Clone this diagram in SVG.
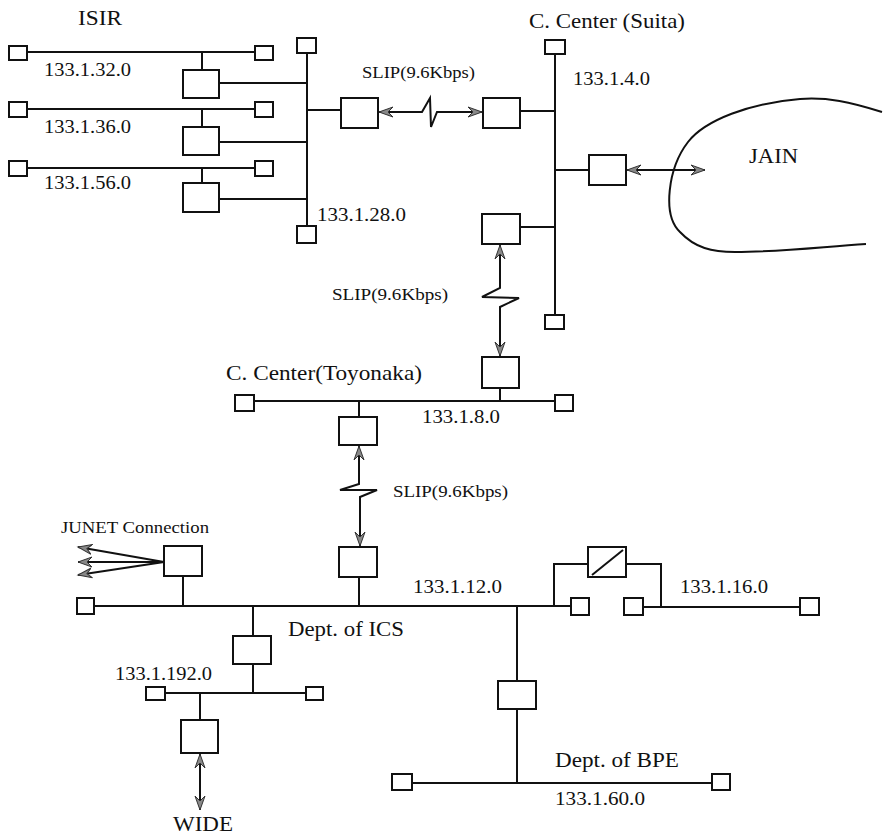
<svg xmlns="http://www.w3.org/2000/svg" width="883" height="836" viewBox="0 0 883 836">
<style>
  .ln{fill:none;stroke:#111;stroke-width:2}
  .bx{fill:#fff;stroke:#111;stroke-width:2}
  .hs{fill:#fff;stroke:#111;stroke-width:2}
  .ar{fill:none;stroke:#111;stroke-width:2;marker-start:url(#ah);marker-end:url(#ah)}
  .a1{fill:none;stroke:#111;stroke-width:2;marker-end:url(#ah)}
  text{font-family:"Liberation Serif","Times New Roman",serif;fill:#111}
  .lb{font-size:19px}
  .tt{font-size:22px}
  .sl{font-size:17px}
  .jn{font-size:16px}
</style>
<defs>
  <marker id="ah" markerUnits="userSpaceOnUse" markerWidth="16" markerHeight="12" refX="14" refY="6" orient="auto-start-reverse" viewBox="0 0 16 12">
    <path d="M0,1 L14,6 L0,11 L5,6 z" fill="#888" stroke="#333" stroke-width="1"/>
  </marker>
</defs>

<g id="connectors">
  <line class="ln" x1="27" y1="52" x2="255" y2="52"/>
  <line class="ln" x1="27" y1="109" x2="255" y2="109"/>
  <line class="ln" x1="27" y1="168" x2="255" y2="168"/>
  <line class="ln" x1="202" y1="52" x2="202" y2="70"/>
  <line class="ln" x1="202" y1="109" x2="202" y2="127"/>
  <line class="ln" x1="202" y1="168" x2="202" y2="183"/>
  <line class="ln" x1="219" y1="83" x2="307" y2="83"/>
  <line class="ln" x1="219" y1="142" x2="307" y2="142"/>
  <line class="ln" x1="219" y1="199" x2="307" y2="199"/>
  <line class="ln" x1="307" y1="53" x2="307" y2="226"/>
  <line class="ln" x1="307" y1="110" x2="341" y2="110"/>
  <path class="ar" d="M379,112 L422,112 L430,98 L431,127 L437,112 L482,112"/>
  <line class="ln" x1="520" y1="111" x2="555" y2="111"/>
  <line class="ln" x1="555" y1="54" x2="555" y2="315"/>
  <line class="ln" x1="555" y1="170" x2="589" y2="170"/>
  <line class="ar" x1="627" y1="170" x2="705" y2="170"/>
  <line class="ln" x1="520" y1="227" x2="555" y2="227"/>
  <path class="ar" d="M500,245 L500,288 L482,297 L519,298 L500,307 L500,356"/>
  <line class="ln" x1="500" y1="388" x2="500" y2="401"/>
  <line class="ln" x1="254" y1="401" x2="555" y2="401"/>
  <line class="ln" x1="359" y1="401" x2="359" y2="417"/>
  <path class="ar" d="M359,446 L359,484 L340,490 L377,490 L360,497 L360,546"/>
  <line class="ln" x1="359" y1="577" x2="359" y2="606"/>
  <line class="ln" x1="94" y1="606" x2="571" y2="606"/>
  <line class="ln" x1="183" y1="576" x2="183" y2="606"/>
  <line class="a1" x1="164" y1="562" x2="78" y2="547"/>
  <line class="a1" x1="164" y1="562" x2="78" y2="562"/>
  <line class="a1" x1="164" y1="562" x2="78" y2="575"/>
  <path class="ln" d="M554,606 L554,564 L588,564"/>
  <path class="ln" d="M626,564 L661,564 L661,607"/>
  <line class="ln" x1="643" y1="607" x2="800" y2="607"/>
  <line class="ln" x1="517" y1="606" x2="517" y2="681"/>
  <line class="ln" x1="517" y1="709" x2="517" y2="783"/>
  <line class="ln" x1="412" y1="783" x2="712" y2="783"/>
  <line class="ln" x1="253" y1="606" x2="253" y2="636"/>
  <line class="ln" x1="253" y1="664" x2="253" y2="693"/>
  <line class="ln" x1="165" y1="693" x2="306" y2="693"/>
  <line class="ln" x1="200" y1="693" x2="200" y2="720"/>
  <line class="ar" x1="200" y1="754" x2="200" y2="810"/>
</g>

<g id="jain">
  <path class="ln" d="M882,112 C850,102 828,97 800,99 C750,103 705,120 688,142 C668,168 662,215 680,232 C695,248 712,252 735,252 C780,252 820,247 866,244"/>
  <text class="tt" x="749" y="163" textLength="49" lengthAdjust="spacingAndGlyphs">JAIN</text>
</g>

<g id="isir">
  <text class="tt" x="78" y="25" textLength="44" lengthAdjust="spacingAndGlyphs">ISIR</text>
  <rect class="hs" x="9" y="46" width="18" height="14"/>
  <rect class="hs" x="255" y="46" width="18" height="14"/>
  <rect class="hs" x="9" y="102" width="18" height="15"/>
  <rect class="hs" x="255" y="102" width="18" height="15"/>
  <rect class="hs" x="9" y="161" width="18" height="15"/>
  <rect class="hs" x="255" y="161" width="18" height="15"/>
  <rect class="bx" x="183" y="70" width="36" height="28"/>
  <rect class="bx" x="183" y="127" width="36" height="28"/>
  <rect class="bx" x="183" y="183" width="36" height="29"/>
  <rect class="hs" x="297" y="38" width="19" height="15"/>
  <rect class="hs" x="297" y="226" width="19" height="17"/>
  <rect class="bx" x="341" y="98" width="37" height="30"/>
  <text class="lb" x="44" y="76" textLength="87" lengthAdjust="spacingAndGlyphs">133.1.32.0</text>
  <text class="lb" x="44" y="133" textLength="87" lengthAdjust="spacingAndGlyphs">133.1.36.0</text>
  <text class="lb" x="44" y="189" textLength="87" lengthAdjust="spacingAndGlyphs">133.1.56.0</text>
  <text class="lb" x="317" y="221" textLength="89" lengthAdjust="spacingAndGlyphs">133.1.28.0</text>
</g>

<g id="slip-labels">
  <text class="sl" x="362" y="78" textLength="113" lengthAdjust="spacingAndGlyphs">SLIP(9.6Kbps)</text>
  <text class="sl" x="332" y="300" textLength="116" lengthAdjust="spacingAndGlyphs">SLIP(9.6Kbps)</text>
  <text class="sl" x="393" y="497" textLength="115" lengthAdjust="spacingAndGlyphs">SLIP(9.6Kbps)</text>
</g>

<g id="suita">
  <text class="tt" x="529" y="28" textLength="156" lengthAdjust="spacingAndGlyphs">C. Center (Suita)</text>
  <text class="lb" x="573" y="85" textLength="77" lengthAdjust="spacingAndGlyphs">133.1.4.0</text>
  <rect class="hs" x="545" y="40" width="20" height="14"/>
  <rect class="hs" x="545" y="315" width="19" height="14"/>
  <rect class="bx" x="483" y="98" width="37" height="30"/>
  <rect class="bx" x="589" y="155" width="37" height="30"/>
  <rect class="bx" x="482" y="214" width="38" height="30"/>
</g>

<g id="toyonaka">
  <text class="tt" x="226" y="380" textLength="196" lengthAdjust="spacingAndGlyphs">C. Center(Toyonaka)</text>
  <text class="lb" x="422" y="423" textLength="78" lengthAdjust="spacingAndGlyphs">133.1.8.0</text>
  <rect class="bx" x="482" y="357" width="37" height="31"/>
  <rect class="hs" x="235" y="395" width="19" height="16"/>
  <rect class="hs" x="555" y="395" width="18" height="16"/>
  <rect class="bx" x="339" y="417" width="38" height="28"/>
</g>

<g id="ics">
  <text class="jn" x="61" y="533" textLength="148" lengthAdjust="spacingAndGlyphs">JUNET Connection</text>
  <rect class="bx" x="164" y="546" width="38" height="30"/>
  <rect class="bx" x="339" y="547" width="38" height="30"/>
  <rect class="hs" x="77" y="598" width="17" height="16"/>
  <rect class="hs" x="571" y="598" width="18" height="17"/>
  <rect class="hs" x="624" y="598" width="19" height="17"/>
  <rect class="hs" x="800" y="598" width="19" height="17"/>
  <rect class="bx" x="588" y="547" width="38" height="30"/>
  <line class="ln" x1="592" y1="575" x2="623" y2="550"/>
  <text class="lb" x="413" y="593" textLength="89" lengthAdjust="spacingAndGlyphs">133.1.12.0</text>
  <text class="lb" x="680" y="593" textLength="88" lengthAdjust="spacingAndGlyphs">133.1.16.0</text>
  <text class="tt" x="288" y="636" textLength="116" lengthAdjust="spacingAndGlyphs">Dept. of ICS</text>
</g>

<g id="net192">
  <rect class="bx" x="233" y="636" width="38" height="28"/>
  <rect class="hs" x="146" y="687" width="19" height="13"/>
  <rect class="hs" x="306" y="687" width="17" height="13"/>
  <rect class="bx" x="181" y="720" width="37" height="33"/>
  <text class="lb" x="115" y="680" textLength="97" lengthAdjust="spacingAndGlyphs">133.1.192.0</text>
  <text class="tt" x="173" y="831" textLength="60" lengthAdjust="spacingAndGlyphs">WIDE</text>
</g>

<g id="bpe">
  <rect class="bx" x="498" y="681" width="38" height="28"/>
  <rect class="hs" x="392" y="774" width="20" height="16"/>
  <rect class="hs" x="712" y="774" width="18" height="16"/>
  <text class="tt" x="555" y="767" textLength="124" lengthAdjust="spacingAndGlyphs">Dept. of BPE</text>
  <text class="lb" x="555" y="805" textLength="90" lengthAdjust="spacingAndGlyphs">133.1.60.0</text>
</g>
</svg>
